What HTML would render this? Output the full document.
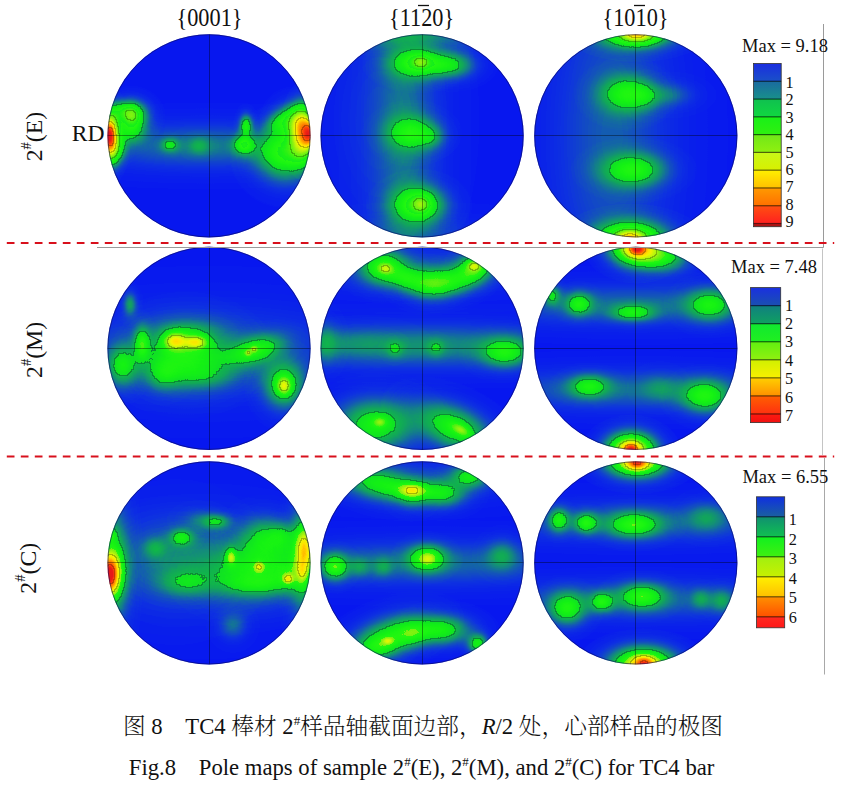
<!DOCTYPE html>
<html><head><meta charset="utf-8"><title>Pole maps</title>
<style>
html,body{margin:0;padding:0;background:#fff;}
body{width:843px;height:786px;overflow:hidden;position:relative;}
svg{position:absolute;left:0;top:0;display:block;}
.t{font-family:"Liberation Serif","Noto Serif CJK SC",serif;fill:#111;}
</style></head><body>
<svg width="843" height="786" viewBox="0 0 843 786">
<defs>
<radialGradient id="g"><stop offset="0.000" stop-color="#fff" stop-opacity="1.0000"/><stop offset="0.083" stop-color="#fff" stop-opacity="0.9692"/><stop offset="0.167" stop-color="#fff" stop-opacity="0.8825"/><stop offset="0.250" stop-color="#fff" stop-opacity="0.7548"/><stop offset="0.333" stop-color="#fff" stop-opacity="0.6065"/><stop offset="0.417" stop-color="#fff" stop-opacity="0.4578"/><stop offset="0.500" stop-color="#fff" stop-opacity="0.3247"/><stop offset="0.583" stop-color="#fff" stop-opacity="0.2163"/><stop offset="0.667" stop-color="#fff" stop-opacity="0.1353"/><stop offset="0.750" stop-color="#fff" stop-opacity="0.0796"/><stop offset="0.833" stop-color="#fff" stop-opacity="0.0439"/><stop offset="0.917" stop-color="#fff" stop-opacity="0.0228"/><stop offset="1.000" stop-color="#fff" stop-opacity="0.0111"/></radialGradient>
<filter id="f0" x="0" y="0" width="1" height="1" filterUnits="objectBoundingBox" color-interpolation-filters="sRGB">
<feComponentTransfer in="SourceGraphic" result="col"><feFuncR type="table" tableValues="0.031 0.034 0.036 0.038 0.041 0.043 0.045 0.048 0.050 0.052 0.054 0.057 0.059 0.061 0.064 0.066 0.068 0.071 0.073 0.075 0.078 0.078 0.078 0.078 0.078 0.078 0.078 0.078 0.078 0.078 0.078 0.078 0.077 0.077 0.076 0.075 0.074 0.074 0.073 0.072 0.071 0.070 0.070 0.069 0.068 0.067 0.066 0.066 0.065 0.064 0.063 0.063 0.064 0.065 0.066 0.068 0.069 0.070 0.071 0.073 0.074 0.075 0.076 0.078 0.080 0.085 0.090 0.094 0.099 0.104 0.109 0.114 0.119 0.124 0.129 0.134 0.139 0.086 0.089 0.091 0.094 0.096 0.099 0.112 0.125 0.138 0.152 0.165 0.178 0.191 0.204 0.217 0.231 0.244 0.257 0.270 0.283 0.296 0.310 0.324 0.338 0.353 0.368 0.382 0.397 0.412 0.426 0.441 0.456 0.470 0.485 0.500 0.514 0.529 0.544 0.558 0.573 0.588 0.602 0.616 0.629 0.643 0.657 0.671 0.685 0.699 0.713 0.727 0.741 0.755 0.769 0.783 0.794 0.806 0.817 0.828 0.839 0.850 0.861 0.873 0.884 0.895 0.906 0.917 0.928 0.940 0.945 0.949 0.953 0.957 0.962 0.966 0.970 0.974 0.978 0.982 0.987 0.991 0.995 0.999 1.000 1.000 1.000 1.000 1.000 1.000 1.000 1.000 1.000 1.000 1.000 1.000 1.000 1.000 1.000 1.000 1.000 1.000 1.000 1.000 1.000 1.000 1.000 1.000 1.000 1.000 1.000 1.000 1.000 1.000 1.000 1.000 1.000 1.000 1.000 1.000 1.000 1.000 0.999 0.999 0.998 0.997 0.997 0.996 0.995 0.995 0.994 0.993 0.993 0.992 0.992 0.991 0.990 0.990 0.989 0.988 0.985 0.981 0.976 0.971 0.967 0.962 0.958 0.953 0.948 0.944 0.939 0.935 0.930 0.925 0.921 0.916 0.912 0.907 0.902 0.902 0.902 0.902 0.902 0.902 0.902 0.902 0.902 0.902 0.902 0.902 0.902 0.902 0.902 0.902 0.902 0.902 0.902 0.902 0.902 0.902"/><feFuncG type="table" tableValues="0.094 0.104 0.114 0.124 0.134 0.144 0.154 0.164 0.174 0.184 0.194 0.207 0.220 0.234 0.247 0.261 0.274 0.288 0.301 0.314 0.328 0.344 0.361 0.378 0.396 0.413 0.430 0.448 0.465 0.482 0.499 0.515 0.529 0.542 0.556 0.569 0.582 0.596 0.609 0.623 0.636 0.649 0.658 0.667 0.676 0.685 0.694 0.703 0.712 0.721 0.730 0.886 0.891 0.896 0.901 0.906 0.911 0.916 0.921 0.926 0.931 0.935 0.940 0.945 0.949 0.951 0.953 0.955 0.957 0.959 0.961 0.962 0.964 0.966 0.968 0.970 0.972 0.926 0.931 0.935 0.940 0.945 0.949 0.949 0.949 0.949 0.949 0.949 0.949 0.949 0.949 0.949 0.949 0.949 0.949 0.949 0.949 0.949 0.949 0.949 0.949 0.949 0.949 0.949 0.949 0.949 0.949 0.949 0.949 0.949 0.949 0.949 0.949 0.949 0.949 0.949 0.949 0.949 0.950 0.951 0.952 0.953 0.955 0.956 0.957 0.958 0.959 0.960 0.961 0.962 0.963 0.965 0.964 0.964 0.963 0.963 0.962 0.961 0.961 0.960 0.960 0.959 0.959 0.958 0.957 0.957 0.952 0.947 0.942 0.936 0.931 0.926 0.920 0.915 0.910 0.905 0.899 0.894 0.889 0.883 0.872 0.860 0.847 0.834 0.822 0.809 0.797 0.784 0.772 0.759 0.746 0.734 0.721 0.709 0.696 0.684 0.671 0.658 0.646 0.634 0.623 0.611 0.600 0.588 0.577 0.565 0.554 0.542 0.531 0.519 0.508 0.496 0.485 0.473 0.462 0.450 0.439 0.428 0.417 0.407 0.396 0.386 0.375 0.365 0.354 0.344 0.333 0.323 0.312 0.302 0.291 0.281 0.271 0.260 0.250 0.239 0.231 0.223 0.216 0.209 0.201 0.194 0.187 0.179 0.172 0.165 0.157 0.150 0.143 0.135 0.128 0.121 0.113 0.106 0.099 0.098 0.098 0.098 0.098 0.098 0.098 0.098 0.098 0.098 0.098 0.098 0.098 0.098 0.098 0.098 0.098 0.098 0.098 0.098 0.098 0.098"/><feFuncB type="table" tableValues="0.941 0.935 0.930 0.924 0.918 0.912 0.907 0.901 0.895 0.889 0.884 0.870 0.855 0.839 0.824 0.809 0.793 0.778 0.762 0.747 0.732 0.714 0.695 0.676 0.656 0.637 0.618 0.599 0.579 0.560 0.541 0.523 0.506 0.490 0.473 0.457 0.440 0.424 0.407 0.391 0.374 0.359 0.349 0.340 0.331 0.321 0.312 0.302 0.293 0.283 0.274 0.141 0.136 0.131 0.126 0.121 0.117 0.112 0.107 0.102 0.097 0.092 0.087 0.082 0.078 0.077 0.076 0.074 0.073 0.072 0.071 0.070 0.068 0.067 0.066 0.065 0.063 0.109 0.105 0.100 0.095 0.091 0.086 0.085 0.083 0.082 0.080 0.079 0.078 0.076 0.075 0.073 0.072 0.070 0.069 0.068 0.066 0.065 0.063 0.063 0.063 0.063 0.063 0.063 0.063 0.063 0.063 0.063 0.063 0.063 0.063 0.063 0.063 0.063 0.063 0.063 0.063 0.063 0.061 0.059 0.058 0.056 0.054 0.053 0.051 0.049 0.048 0.046 0.044 0.043 0.041 0.039 0.037 0.035 0.033 0.030 0.028 0.026 0.024 0.022 0.019 0.017 0.015 0.013 0.010 0.008 0.007 0.007 0.006 0.006 0.005 0.005 0.004 0.003 0.003 0.002 0.002 0.001 0.001 0.000 0.000 0.000 0.000 0.000 0.000 0.000 0.000 0.000 0.000 0.000 0.000 0.000 0.000 0.000 0.000 0.000 0.000 0.000 0.000 0.000 0.000 0.000 0.000 0.000 0.000 0.000 0.000 0.000 0.000 0.000 0.000 0.000 0.000 0.000 0.000 0.000 0.000 0.001 0.003 0.006 0.008 0.011 0.013 0.016 0.019 0.021 0.024 0.026 0.029 0.031 0.034 0.036 0.039 0.041 0.044 0.046 0.049 0.052 0.054 0.057 0.060 0.062 0.065 0.068 0.071 0.073 0.076 0.079 0.081 0.084 0.087 0.090 0.092 0.095 0.098 0.098 0.098 0.098 0.098 0.098 0.098 0.098 0.098 0.098 0.098 0.098 0.098 0.098 0.098 0.098 0.098 0.098 0.098 0.098 0.098 0.098"/><feFuncA type="identity"/></feComponentTransfer>
<feComponentTransfer in="SourceGraphic" result="band"><feFuncR type="discrete" tableValues="0.00 0.00 0.10 0.10 0.20 0.20 0.30 0.30 0.40 0.40"/></feComponentTransfer>
<feColorMatrix in="band" type="matrix" values="0 0 0 0 0  0 0 0 0 0  0 0 0 0 0  1 0 0 0 0" result="bandA"/>
<feMorphology in="bandA" operator="dilate" radius="1" result="dil"/>
<feComposite in="dil" in2="bandA" operator="arithmetic" k1="0" k2="1" k3="-1" k4="0" result="edge"/>
<feComponentTransfer in="edge" result="line"><feFuncA type="linear" slope="2.50"/></feComponentTransfer>
<feComposite in="line" in2="col" operator="over"/>
</filter>
<filter id="f1" x="0" y="0" width="1" height="1" filterUnits="objectBoundingBox" color-interpolation-filters="sRGB">
<feComponentTransfer in="SourceGraphic" result="col"><feFuncR type="table" tableValues="0.031 0.034 0.036 0.038 0.041 0.043 0.045 0.048 0.050 0.052 0.054 0.057 0.059 0.061 0.064 0.066 0.068 0.071 0.073 0.075 0.078 0.078 0.078 0.078 0.078 0.078 0.078 0.078 0.078 0.078 0.078 0.078 0.077 0.077 0.076 0.075 0.074 0.074 0.073 0.072 0.071 0.070 0.070 0.069 0.068 0.067 0.066 0.066 0.065 0.064 0.063 0.063 0.064 0.065 0.066 0.068 0.069 0.070 0.071 0.073 0.074 0.075 0.076 0.078 0.080 0.085 0.090 0.094 0.099 0.104 0.109 0.114 0.119 0.124 0.129 0.134 0.139 0.263 0.280 0.296 0.312 0.330 0.348 0.366 0.384 0.402 0.420 0.438 0.456 0.474 0.492 0.510 0.528 0.546 0.564 0.582 0.599 0.616 0.633 0.650 0.668 0.685 0.702 0.719 0.736 0.753 0.770 0.787 0.801 0.814 0.828 0.842 0.855 0.869 0.883 0.897 0.910 0.924 0.938 0.945 0.950 0.955 0.960 0.966 0.971 0.976 0.981 0.986 0.991 0.996 1.000 1.000 1.000 1.000 1.000 1.000 1.000 1.000 1.000 1.000 1.000 1.000 1.000 1.000 1.000 1.000 1.000 1.000 1.000 1.000 1.000 1.000 1.000 1.000 1.000 1.000 1.000 1.000 1.000 1.000 1.000 0.999 0.999 0.998 0.997 0.996 0.996 0.995 0.994 0.993 0.992 0.992 0.991 0.990 0.989 0.989 0.985 0.980 0.974 0.968 0.963 0.957 0.951 0.946 0.940 0.934 0.929 0.923 0.917 0.912 0.906 0.902 0.902 0.902 0.902 0.902 0.902 0.902 0.902 0.902 0.902 0.902 0.902 0.902 0.902 0.902 0.902 0.902 0.902 0.902 0.902 0.902 0.902 0.902 0.902 0.902 0.902 0.902 0.902 0.902 0.902 0.902 0.902 0.902 0.902 0.902 0.902 0.902 0.902 0.902 0.902 0.902 0.902 0.902 0.902 0.902 0.902 0.902 0.902 0.902 0.902 0.902 0.902 0.902 0.902 0.902 0.902 0.902 0.902 0.902 0.902 0.902 0.902 0.902 0.902 0.902"/><feFuncG type="table" tableValues="0.094 0.104 0.114 0.124 0.134 0.144 0.154 0.164 0.174 0.184 0.194 0.207 0.220 0.234 0.247 0.261 0.274 0.288 0.301 0.314 0.328 0.344 0.361 0.378 0.396 0.413 0.430 0.448 0.465 0.482 0.499 0.515 0.529 0.542 0.556 0.569 0.582 0.596 0.609 0.623 0.636 0.649 0.658 0.667 0.676 0.685 0.694 0.703 0.712 0.721 0.730 0.886 0.891 0.896 0.901 0.906 0.911 0.916 0.921 0.926 0.931 0.935 0.940 0.945 0.949 0.951 0.953 0.955 0.957 0.959 0.961 0.962 0.964 0.966 0.968 0.970 0.972 0.949 0.949 0.949 0.949 0.949 0.949 0.949 0.949 0.949 0.949 0.949 0.949 0.949 0.949 0.949 0.949 0.949 0.949 0.949 0.950 0.951 0.953 0.954 0.955 0.957 0.958 0.959 0.961 0.962 0.964 0.965 0.964 0.963 0.963 0.962 0.961 0.960 0.960 0.959 0.958 0.958 0.957 0.952 0.946 0.939 0.933 0.926 0.919 0.913 0.906 0.900 0.893 0.887 0.878 0.862 0.847 0.832 0.816 0.801 0.785 0.770 0.754 0.739 0.724 0.708 0.693 0.677 0.662 0.647 0.632 0.618 0.604 0.590 0.576 0.562 0.548 0.533 0.519 0.505 0.491 0.477 0.463 0.449 0.435 0.421 0.409 0.396 0.383 0.370 0.357 0.344 0.331 0.319 0.306 0.293 0.280 0.267 0.254 0.241 0.231 0.222 0.213 0.204 0.195 0.186 0.177 0.168 0.159 0.150 0.141 0.132 0.123 0.114 0.105 0.098 0.098 0.098 0.098 0.098 0.098 0.098 0.098 0.098 0.098 0.098 0.098 0.098 0.098 0.098 0.098 0.098 0.098 0.098 0.098 0.098 0.098 0.098 0.098 0.098 0.098 0.098 0.098 0.098 0.098 0.098 0.098 0.098 0.098 0.098 0.098 0.098 0.098 0.098 0.098 0.098 0.098 0.098 0.098 0.098 0.098 0.098 0.098 0.098 0.098 0.098 0.098 0.098 0.098 0.098 0.098 0.098 0.098 0.098 0.098 0.098 0.098 0.098 0.098 0.098"/><feFuncB type="table" tableValues="0.941 0.935 0.930 0.924 0.918 0.912 0.907 0.901 0.895 0.889 0.884 0.870 0.855 0.839 0.824 0.809 0.793 0.778 0.762 0.747 0.732 0.714 0.695 0.676 0.656 0.637 0.618 0.599 0.579 0.560 0.541 0.523 0.506 0.490 0.473 0.457 0.440 0.424 0.407 0.391 0.374 0.359 0.349 0.340 0.331 0.321 0.312 0.302 0.293 0.283 0.274 0.141 0.136 0.131 0.126 0.121 0.117 0.112 0.107 0.102 0.097 0.092 0.087 0.082 0.078 0.077 0.076 0.074 0.073 0.072 0.071 0.070 0.068 0.067 0.066 0.065 0.063 0.068 0.066 0.065 0.063 0.063 0.063 0.063 0.063 0.063 0.063 0.063 0.063 0.063 0.063 0.063 0.063 0.063 0.063 0.063 0.061 0.059 0.057 0.055 0.053 0.051 0.049 0.047 0.045 0.043 0.041 0.039 0.036 0.033 0.030 0.028 0.025 0.022 0.020 0.017 0.014 0.011 0.009 0.007 0.007 0.006 0.005 0.005 0.004 0.003 0.003 0.002 0.001 0.000 0.000 0.000 0.000 0.000 0.000 0.000 0.000 0.000 0.000 0.000 0.000 0.000 0.000 0.000 0.000 0.000 0.000 0.000 0.000 0.000 0.000 0.000 0.000 0.000 0.000 0.000 0.000 0.000 0.000 0.000 0.000 0.002 0.005 0.009 0.012 0.015 0.018 0.021 0.024 0.027 0.030 0.033 0.036 0.039 0.042 0.046 0.049 0.052 0.055 0.059 0.062 0.065 0.069 0.072 0.076 0.079 0.082 0.086 0.089 0.092 0.096 0.098 0.098 0.098 0.098 0.098 0.098 0.098 0.098 0.098 0.098 0.098 0.098 0.098 0.098 0.098 0.098 0.098 0.098 0.098 0.098 0.098 0.098 0.098 0.098 0.098 0.098 0.098 0.098 0.098 0.098 0.098 0.098 0.098 0.098 0.098 0.098 0.098 0.098 0.098 0.098 0.098 0.098 0.098 0.098 0.098 0.098 0.098 0.098 0.098 0.098 0.098 0.098 0.098 0.098 0.098 0.098 0.098 0.098 0.098 0.098 0.098 0.098 0.098 0.098 0.098"/><feFuncA type="identity"/></feComponentTransfer>
<feComponentTransfer in="SourceGraphic" result="band"><feFuncR type="discrete" tableValues="0.00 0.00 0.10 0.10 0.20 0.20 0.30 0.30 0.40 0.40"/></feComponentTransfer>
<feColorMatrix in="band" type="matrix" values="0 0 0 0 0  0 0 0 0 0  0 0 0 0 0  1 0 0 0 0" result="bandA"/>
<feMorphology in="bandA" operator="dilate" radius="1" result="dil"/>
<feComposite in="dil" in2="bandA" operator="arithmetic" k1="0" k2="1" k3="-1" k4="0" result="edge"/>
<feComponentTransfer in="edge" result="line"><feFuncA type="linear" slope="2.50"/></feComponentTransfer>
<feComposite in="line" in2="col" operator="over"/>
</filter>
<filter id="f2" x="0" y="0" width="1" height="1" filterUnits="objectBoundingBox" color-interpolation-filters="sRGB">
<feComponentTransfer in="SourceGraphic" result="col"><feFuncR type="table" tableValues="0.031 0.034 0.036 0.038 0.041 0.043 0.045 0.048 0.050 0.052 0.054 0.057 0.059 0.061 0.064 0.066 0.068 0.071 0.073 0.075 0.078 0.078 0.078 0.078 0.078 0.078 0.078 0.078 0.078 0.078 0.078 0.078 0.077 0.077 0.076 0.075 0.074 0.074 0.073 0.072 0.071 0.070 0.070 0.069 0.068 0.067 0.066 0.066 0.065 0.064 0.063 0.063 0.064 0.065 0.066 0.068 0.069 0.070 0.071 0.073 0.074 0.075 0.076 0.078 0.080 0.085 0.090 0.094 0.099 0.104 0.109 0.114 0.119 0.124 0.129 0.134 0.139 0.454 0.475 0.496 0.516 0.537 0.557 0.578 0.598 0.617 0.637 0.656 0.676 0.696 0.715 0.735 0.754 0.774 0.792 0.807 0.823 0.839 0.854 0.870 0.886 0.901 0.917 0.932 0.944 0.950 0.956 0.961 0.967 0.973 0.979 0.985 0.991 0.997 1.000 1.000 1.000 1.000 1.000 1.000 1.000 1.000 1.000 1.000 1.000 1.000 1.000 1.000 1.000 1.000 1.000 1.000 1.000 1.000 1.000 1.000 1.000 1.000 1.000 1.000 1.000 0.999 0.999 0.998 0.997 0.996 0.995 0.994 0.993 0.992 0.991 0.991 0.990 0.989 0.986 0.980 0.973 0.967 0.960 0.954 0.947 0.941 0.934 0.928 0.921 0.915 0.909 0.902 0.902 0.902 0.902 0.902 0.902 0.902 0.902 0.902 0.902 0.902 0.902 0.902 0.902 0.902 0.902 0.902 0.902 0.902 0.902 0.902 0.902 0.902 0.902 0.902 0.902 0.902 0.902 0.902 0.902 0.902 0.902 0.902 0.902 0.902 0.902 0.902 0.902 0.902 0.902 0.902 0.902 0.902 0.902 0.902 0.902 0.902 0.902 0.902 0.902 0.902 0.902 0.902 0.902 0.902 0.902 0.902 0.902 0.902 0.902 0.902 0.902 0.902 0.902 0.902 0.902 0.902 0.902 0.902 0.902 0.902 0.902 0.902 0.902 0.902 0.902 0.902 0.902 0.902 0.902 0.902 0.902 0.902 0.902 0.902 0.902 0.902 0.902 0.902"/><feFuncG type="table" tableValues="0.094 0.104 0.114 0.124 0.134 0.144 0.154 0.164 0.174 0.184 0.194 0.207 0.220 0.234 0.247 0.261 0.274 0.288 0.301 0.314 0.328 0.344 0.361 0.378 0.396 0.413 0.430 0.448 0.465 0.482 0.499 0.515 0.529 0.542 0.556 0.569 0.582 0.596 0.609 0.623 0.636 0.649 0.658 0.667 0.676 0.685 0.694 0.703 0.712 0.721 0.730 0.886 0.891 0.896 0.901 0.906 0.911 0.916 0.921 0.926 0.931 0.935 0.940 0.945 0.949 0.951 0.953 0.955 0.957 0.959 0.961 0.962 0.964 0.966 0.968 0.970 0.972 0.949 0.949 0.949 0.949 0.949 0.949 0.949 0.950 0.951 0.953 0.954 0.956 0.958 0.959 0.961 0.962 0.964 0.964 0.964 0.963 0.962 0.961 0.960 0.960 0.959 0.958 0.957 0.954 0.946 0.939 0.931 0.924 0.916 0.909 0.902 0.894 0.887 0.875 0.857 0.840 0.822 0.804 0.787 0.769 0.752 0.734 0.716 0.699 0.681 0.664 0.646 0.630 0.614 0.598 0.582 0.565 0.549 0.533 0.517 0.501 0.485 0.469 0.452 0.436 0.421 0.406 0.392 0.377 0.362 0.348 0.333 0.318 0.304 0.289 0.274 0.260 0.245 0.232 0.222 0.211 0.201 0.191 0.180 0.170 0.160 0.150 0.139 0.129 0.119 0.109 0.098 0.098 0.098 0.098 0.098 0.098 0.098 0.098 0.098 0.098 0.098 0.098 0.098 0.098 0.098 0.098 0.098 0.098 0.098 0.098 0.098 0.098 0.098 0.098 0.098 0.098 0.098 0.098 0.098 0.098 0.098 0.098 0.098 0.098 0.098 0.098 0.098 0.098 0.098 0.098 0.098 0.098 0.098 0.098 0.098 0.098 0.098 0.098 0.098 0.098 0.098 0.098 0.098 0.098 0.098 0.098 0.098 0.098 0.098 0.098 0.098 0.098 0.098 0.098 0.098 0.098 0.098 0.098 0.098 0.098 0.098 0.098 0.098 0.098 0.098 0.098 0.098 0.098 0.098 0.098 0.098 0.098 0.098 0.098 0.098 0.098 0.098 0.098 0.098"/><feFuncB type="table" tableValues="0.941 0.935 0.930 0.924 0.918 0.912 0.907 0.901 0.895 0.889 0.884 0.870 0.855 0.839 0.824 0.809 0.793 0.778 0.762 0.747 0.732 0.714 0.695 0.676 0.656 0.637 0.618 0.599 0.579 0.560 0.541 0.523 0.506 0.490 0.473 0.457 0.440 0.424 0.407 0.391 0.374 0.359 0.349 0.340 0.331 0.321 0.312 0.302 0.293 0.283 0.274 0.141 0.136 0.131 0.126 0.121 0.117 0.112 0.107 0.102 0.097 0.092 0.087 0.082 0.078 0.077 0.076 0.074 0.073 0.072 0.071 0.070 0.068 0.067 0.066 0.065 0.063 0.063 0.063 0.063 0.063 0.063 0.063 0.063 0.062 0.059 0.057 0.055 0.052 0.050 0.048 0.045 0.043 0.040 0.038 0.035 0.031 0.028 0.025 0.022 0.019 0.016 0.013 0.010 0.007 0.007 0.006 0.005 0.004 0.004 0.003 0.002 0.001 0.000 0.000 0.000 0.000 0.000 0.000 0.000 0.000 0.000 0.000 0.000 0.000 0.000 0.000 0.000 0.000 0.000 0.000 0.000 0.000 0.000 0.000 0.000 0.000 0.000 0.000 0.000 0.000 0.002 0.006 0.010 0.013 0.017 0.020 0.024 0.027 0.031 0.034 0.038 0.041 0.045 0.048 0.052 0.056 0.060 0.064 0.067 0.071 0.075 0.079 0.083 0.086 0.090 0.094 0.098 0.098 0.098 0.098 0.098 0.098 0.098 0.098 0.098 0.098 0.098 0.098 0.098 0.098 0.098 0.098 0.098 0.098 0.098 0.098 0.098 0.098 0.098 0.098 0.098 0.098 0.098 0.098 0.098 0.098 0.098 0.098 0.098 0.098 0.098 0.098 0.098 0.098 0.098 0.098 0.098 0.098 0.098 0.098 0.098 0.098 0.098 0.098 0.098 0.098 0.098 0.098 0.098 0.098 0.098 0.098 0.098 0.098 0.098 0.098 0.098 0.098 0.098 0.098 0.098 0.098 0.098 0.098 0.098 0.098 0.098 0.098 0.098 0.098 0.098 0.098 0.098 0.098 0.098 0.098 0.098 0.098 0.098 0.098 0.098 0.098 0.098 0.098 0.098"/><feFuncA type="identity"/></feComponentTransfer>
<feComponentTransfer in="SourceGraphic" result="band"><feFuncR type="discrete" tableValues="0.00 0.00 0.10 0.10 0.20 0.20 0.30 0.30 0.40 0.40"/></feComponentTransfer>
<feColorMatrix in="band" type="matrix" values="0 0 0 0 0  0 0 0 0 0  0 0 0 0 0  1 0 0 0 0" result="bandA"/>
<feMorphology in="bandA" operator="dilate" radius="1" result="dil"/>
<feComposite in="dil" in2="bandA" operator="arithmetic" k1="0" k2="1" k3="-1" k4="0" result="edge"/>
<feComponentTransfer in="edge" result="line"><feFuncA type="linear" slope="2.50"/></feComponentTransfer>
<feComposite in="line" in2="col" operator="over"/>
</filter>
<clipPath id="c00"><circle cx="209" cy="135.8" r="101.6"/></clipPath>
<clipPath id="c01"><circle cx="422.1" cy="135.8" r="101.6"/></clipPath>
<clipPath id="c02"><circle cx="635.8" cy="135.8" r="101.6"/></clipPath>
<clipPath id="c10"><circle cx="209" cy="348.3" r="101.6"/></clipPath>
<clipPath id="c11"><circle cx="422.1" cy="348.3" r="101.6"/></clipPath>
<clipPath id="c12"><circle cx="635.8" cy="348.3" r="101.6"/></clipPath>
<clipPath id="c20"><circle cx="209" cy="562.9" r="101.6"/></clipPath>
<clipPath id="c21"><circle cx="422.1" cy="562.9" r="101.6"/></clipPath>
<clipPath id="c22"><circle cx="635.8" cy="562.9" r="101.6"/></clipPath>
</defs>
<g clip-path="url(#c00)"><g filter="url(#f0)" style="isolation:isolate"><rect x="105.4" y="32.2" width="207.2" height="207.2" fill="rgb(0,0,0)"/><ellipse cx="132" cy="116" rx="33" ry="29.7" fill="url(#g)" opacity="0.250" style="mix-blend-mode:plus-lighter"/><ellipse cx="122" cy="110" rx="33" ry="19.8" fill="url(#g)" opacity="0.120" style="mix-blend-mode:plus-lighter"/><ellipse cx="132" cy="132" rx="26.4" ry="23.1" fill="url(#g)" opacity="0.130" style="mix-blend-mode:plus-lighter"/><ellipse cx="111" cy="136" rx="19.8" ry="49.5" fill="url(#g)" opacity="0.400" style="mix-blend-mode:plus-lighter"/><ellipse cx="109" cy="135" rx="13.2" ry="33" fill="url(#g)" opacity="0.500" style="mix-blend-mode:plus-lighter"/><ellipse cx="114" cy="152" rx="19.8" ry="29.7" fill="url(#g)" opacity="0.160" style="mix-blend-mode:plus-lighter" transform="rotate(25 114 152)"/><ellipse cx="286" cy="155" rx="56.1" ry="52.8" fill="url(#g)" opacity="0.260" style="mix-blend-mode:plus-lighter"/><ellipse cx="293" cy="120" rx="33" ry="33" fill="url(#g)" opacity="0.220" style="mix-blend-mode:plus-lighter"/><ellipse cx="277" cy="122" rx="26.4" ry="19.8" fill="url(#g)" opacity="0.100" style="mix-blend-mode:plus-lighter" transform="rotate(-30 277 122)"/><ellipse cx="303" cy="131" rx="23.1" ry="49.5" fill="url(#g)" opacity="0.520" style="mix-blend-mode:plus-lighter"/><ellipse cx="310" cy="134" rx="13.2" ry="26.4" fill="url(#g)" opacity="0.400" style="mix-blend-mode:plus-lighter"/><ellipse cx="205" cy="146" rx="231" ry="42.9" fill="url(#g)" opacity="0.112" style="mix-blend-mode:plus-lighter"/><ellipse cx="244" cy="145" rx="19.8" ry="18.2" fill="url(#g)" opacity="0.195" style="mix-blend-mode:plus-lighter"/><ellipse cx="246" cy="125" rx="12.5" ry="21.5" fill="url(#g)" opacity="0.215" style="mix-blend-mode:plus-lighter"/><ellipse cx="170" cy="145" rx="16.5" ry="13.2" fill="url(#g)" opacity="0.130" style="mix-blend-mode:plus-lighter"/><ellipse cx="199" cy="146" rx="19.8" ry="16.5" fill="url(#g)" opacity="0.070" style="mix-blend-mode:plus-lighter"/><ellipse cx="132" cy="115" rx="16.5" ry="19.8" fill="url(#g)" opacity="0.100" style="mix-blend-mode:plus-lighter"/></g><path d="M107.4 135.5H310.6M209.5 34.2V237.4" stroke="#000" stroke-opacity="0.38" stroke-width="1" fill="none"/></g>
<circle cx="209" cy="135.8" r="101.1" fill="none" stroke="#0c0c60" stroke-opacity="0.6" stroke-width="1"/>
<g clip-path="url(#c01)"><g filter="url(#f0)" style="isolation:isolate"><rect x="318.5" y="32.2" width="207.2" height="207.2" fill="rgb(0,0,0)"/><ellipse cx="418" cy="63" rx="56.1" ry="29.7" fill="url(#g)" opacity="0.230" style="mix-blend-mode:plus-lighter"/><ellipse cx="452" cy="65" rx="46.2" ry="26.4" fill="url(#g)" opacity="0.180" style="mix-blend-mode:plus-lighter"/><ellipse cx="412" cy="133" rx="49.5" ry="33" fill="url(#g)" opacity="0.180" style="mix-blend-mode:plus-lighter"/><ellipse cx="432" cy="137" rx="26.4" ry="23.1" fill="url(#g)" opacity="0.080" style="mix-blend-mode:plus-lighter"/><ellipse cx="419" cy="205" rx="52.8" ry="36.3" fill="url(#g)" opacity="0.270" style="mix-blend-mode:plus-lighter"/><ellipse cx="405" cy="136" rx="66" ry="330" fill="url(#g)" opacity="0.090" style="mix-blend-mode:plus-lighter"/><ellipse cx="380" cy="120" rx="99" ry="198" fill="url(#g)" opacity="0.030" style="mix-blend-mode:plus-lighter"/><ellipse cx="422" cy="34" rx="198" ry="26.4" fill="url(#g)" opacity="0.100" style="mix-blend-mode:plus-lighter"/><ellipse cx="422" cy="235" rx="165" ry="33" fill="url(#g)" opacity="0.040" style="mix-blend-mode:plus-lighter"/><ellipse cx="421" cy="62" rx="16.5" ry="13.2" fill="url(#g)" opacity="0.130" style="mix-blend-mode:plus-lighter"/><ellipse cx="421" cy="204" rx="16.5" ry="16.5" fill="url(#g)" opacity="0.130" style="mix-blend-mode:plus-lighter"/></g><path d="M320.5 135.5H523.7M422.5 34.2V237.4" stroke="#000" stroke-opacity="0.38" stroke-width="1" fill="none"/></g>
<circle cx="422.1" cy="135.8" r="101.1" fill="none" stroke="#0c0c60" stroke-opacity="0.6" stroke-width="1"/>
<g clip-path="url(#c02)"><g filter="url(#f0)" style="isolation:isolate"><rect x="532.2" y="32.2" width="207.2" height="207.2" fill="rgb(0,0,0)"/><ellipse cx="637" cy="32" rx="72.6" ry="29.7" fill="url(#g)" opacity="0.360" style="mix-blend-mode:plus-lighter"/><ellipse cx="637" cy="34" rx="33" ry="16.5" fill="url(#g)" opacity="0.280" style="mix-blend-mode:plus-lighter"/><ellipse cx="627" cy="94" rx="52.8" ry="36.3" fill="url(#g)" opacity="0.205" style="mix-blend-mode:plus-lighter"/><ellipse cx="646" cy="96" rx="26.4" ry="26.4" fill="url(#g)" opacity="0.060" style="mix-blend-mode:plus-lighter"/><ellipse cx="670" cy="95" rx="46.2" ry="23.1" fill="url(#g)" opacity="0.080" style="mix-blend-mode:plus-lighter"/><ellipse cx="634" cy="170" rx="62.7" ry="33" fill="url(#g)" opacity="0.215" style="mix-blend-mode:plus-lighter"/><ellipse cx="631" cy="240" rx="72.6" ry="36.3" fill="url(#g)" opacity="0.360" style="mix-blend-mode:plus-lighter"/><ellipse cx="630" cy="238" rx="29.7" ry="16.5" fill="url(#g)" opacity="0.280" style="mix-blend-mode:plus-lighter"/><ellipse cx="612" cy="136" rx="115.5" ry="330" fill="url(#g)" opacity="0.085" style="mix-blend-mode:plus-lighter"/></g><path d="M534.2 135.5H737.4M635.5 34.2V237.4" stroke="#000" stroke-opacity="0.38" stroke-width="1" fill="none"/></g>
<circle cx="635.8" cy="135.8" r="101.1" fill="none" stroke="#0c0c60" stroke-opacity="0.6" stroke-width="1"/>
<g clip-path="url(#c10)"><g filter="url(#f1)" style="isolation:isolate"><rect x="105.4" y="244.7" width="207.2" height="207.2" fill="rgb(0,0,0)"/><ellipse cx="130" cy="304" rx="13.2" ry="23.1" fill="url(#g)" opacity="0.140" style="mix-blend-mode:plus-lighter"/><ellipse cx="142" cy="343" rx="14.9" ry="33" fill="url(#g)" opacity="0.180" style="mix-blend-mode:plus-lighter"/><ellipse cx="122" cy="366" rx="29.7" ry="39.6" fill="url(#g)" opacity="0.185" style="mix-blend-mode:plus-lighter"/><ellipse cx="186" cy="355" rx="89.1" ry="62.7" fill="url(#g)" opacity="0.205" style="mix-blend-mode:plus-lighter"/><ellipse cx="185" cy="330" rx="52.8" ry="16.5" fill="url(#g)" opacity="0.050" style="mix-blend-mode:plus-lighter"/><ellipse cx="163" cy="375" rx="33" ry="29.7" fill="url(#g)" opacity="0.100" style="mix-blend-mode:plus-lighter"/><ellipse cx="205" cy="377" rx="59.4" ry="23.1" fill="url(#g)" opacity="0.060" style="mix-blend-mode:plus-lighter"/><ellipse cx="175" cy="341" rx="23.1" ry="16.5" fill="url(#g)" opacity="0.280" style="mix-blend-mode:plus-lighter"/><ellipse cx="196" cy="342" rx="23.1" ry="13.2" fill="url(#g)" opacity="0.250" style="mix-blend-mode:plus-lighter"/><ellipse cx="256" cy="350" rx="56.1" ry="26.4" fill="url(#g)" opacity="0.200" style="mix-blend-mode:plus-lighter" transform="rotate(-18 256 350)"/><ellipse cx="284" cy="385" rx="39.6" ry="46.2" fill="url(#g)" opacity="0.230" style="mix-blend-mode:plus-lighter"/><ellipse cx="284" cy="386" rx="13.2" ry="16.5" fill="url(#g)" opacity="0.200" style="mix-blend-mode:plus-lighter"/><ellipse cx="254" cy="349" rx="6.6" ry="6.6" fill="url(#g)" opacity="0.120" style="mix-blend-mode:plus-lighter"/><ellipse cx="248" cy="353" rx="6.6" ry="6.6" fill="url(#g)" opacity="0.120" style="mix-blend-mode:plus-lighter"/><ellipse cx="209" cy="352" rx="313.5" ry="85.8" fill="url(#g)" opacity="0.075" style="mix-blend-mode:plus-lighter"/></g><path d="M107.4 348.5H310.6M209.5 246.7V449.9" stroke="#000" stroke-opacity="0.38" stroke-width="1" fill="none"/></g>
<circle cx="209" cy="348.3" r="101.1" fill="none" stroke="#0c0c60" stroke-opacity="0.6" stroke-width="1"/>
<g clip-path="url(#c11)"><g filter="url(#f1)" style="isolation:isolate"><rect x="318.5" y="244.7" width="207.2" height="207.2" fill="rgb(0,0,0)"/><ellipse cx="383" cy="267" rx="46.2" ry="36.3" fill="url(#g)" opacity="0.240" style="mix-blend-mode:plus-lighter"/><ellipse cx="405" cy="278" rx="33" ry="23.1" fill="url(#g)" opacity="0.110" style="mix-blend-mode:plus-lighter"/><ellipse cx="426" cy="284" rx="46.2" ry="29.7" fill="url(#g)" opacity="0.185" style="mix-blend-mode:plus-lighter"/><ellipse cx="450" cy="282" rx="52.8" ry="29.7" fill="url(#g)" opacity="0.190" style="mix-blend-mode:plus-lighter" transform="rotate(-10 450 282)"/><ellipse cx="476" cy="267" rx="36.3" ry="29.7" fill="url(#g)" opacity="0.240" style="mix-blend-mode:plus-lighter" transform="rotate(-30 476 267)"/><ellipse cx="422" cy="346" rx="330" ry="42.9" fill="url(#g)" opacity="0.135" style="mix-blend-mode:plus-lighter"/><ellipse cx="360" cy="342" rx="72.6" ry="26.4" fill="url(#g)" opacity="0.030" style="mix-blend-mode:plus-lighter"/><ellipse cx="395" cy="349" rx="16.5" ry="16.5" fill="url(#g)" opacity="0.080" style="mix-blend-mode:plus-lighter"/><ellipse cx="436" cy="348" rx="16.5" ry="16.5" fill="url(#g)" opacity="0.080" style="mix-blend-mode:plus-lighter"/><ellipse cx="505" cy="353" rx="46.2" ry="29.7" fill="url(#g)" opacity="0.190" style="mix-blend-mode:plus-lighter"/><ellipse cx="326" cy="342" rx="23.1" ry="39.6" fill="url(#g)" opacity="0.080" style="mix-blend-mode:plus-lighter"/><ellipse cx="375" cy="425" rx="79.2" ry="52.8" fill="url(#g)" opacity="0.250" style="mix-blend-mode:plus-lighter"/><ellipse cx="455" cy="428" rx="79.2" ry="42.9" fill="url(#g)" opacity="0.255" style="mix-blend-mode:plus-lighter" transform="rotate(25 455 428)"/><ellipse cx="422" cy="268" rx="231" ry="46.2" fill="url(#g)" opacity="0.060" style="mix-blend-mode:plus-lighter"/><ellipse cx="385.5" cy="268.7" rx="13.2" ry="9.9" fill="url(#g)" opacity="0.130" style="mix-blend-mode:plus-lighter"/><ellipse cx="474" cy="266" rx="13.2" ry="9.9" fill="url(#g)" opacity="0.130" style="mix-blend-mode:plus-lighter"/><ellipse cx="380" cy="422" rx="13.2" ry="9.9" fill="url(#g)" opacity="0.130" style="mix-blend-mode:plus-lighter"/><ellipse cx="461" cy="430" rx="19.8" ry="9.9" fill="url(#g)" opacity="0.130" style="mix-blend-mode:plus-lighter" transform="rotate(30 461 430)"/></g><path d="M320.5 348.5H523.7M422.5 246.7V449.9" stroke="#000" stroke-opacity="0.38" stroke-width="1" fill="none"/></g>
<circle cx="422.1" cy="348.3" r="101.1" fill="none" stroke="#0c0c60" stroke-opacity="0.6" stroke-width="1"/>
<g clip-path="url(#c12)"><g filter="url(#f1)" style="isolation:isolate"><rect x="532.2" y="244.7" width="207.2" height="207.2" fill="rgb(0,0,0)"/><ellipse cx="637" cy="247" rx="52.8" ry="36.3" fill="url(#g)" opacity="0.500" style="mix-blend-mode:plus-lighter"/><ellipse cx="637" cy="249" rx="16.5" ry="13.2" fill="url(#g)" opacity="0.250" style="mix-blend-mode:plus-lighter"/><ellipse cx="665" cy="258" rx="52.8" ry="29.7" fill="url(#g)" opacity="0.190" style="mix-blend-mode:plus-lighter"/><ellipse cx="552" cy="295" rx="16.5" ry="19.8" fill="url(#g)" opacity="0.160" style="mix-blend-mode:plus-lighter"/><ellipse cx="579" cy="304" rx="26.4" ry="23.1" fill="url(#g)" opacity="0.190" style="mix-blend-mode:plus-lighter"/><ellipse cx="633" cy="313" rx="42.9" ry="16.5" fill="url(#g)" opacity="0.180" style="mix-blend-mode:plus-lighter"/><ellipse cx="710" cy="305" rx="46.2" ry="33" fill="url(#g)" opacity="0.190" style="mix-blend-mode:plus-lighter"/><ellipse cx="635" cy="305" rx="313.5" ry="39.6" fill="url(#g)" opacity="0.100" style="mix-blend-mode:plus-lighter"/><ellipse cx="589" cy="386" rx="39.6" ry="23.1" fill="url(#g)" opacity="0.180" style="mix-blend-mode:plus-lighter"/><ellipse cx="660" cy="388" rx="33" ry="26.4" fill="url(#g)" opacity="0.050" style="mix-blend-mode:plus-lighter"/><ellipse cx="705" cy="397" rx="46.2" ry="33" fill="url(#g)" opacity="0.210" style="mix-blend-mode:plus-lighter"/><ellipse cx="635" cy="390" rx="313.5" ry="39.6" fill="url(#g)" opacity="0.100" style="mix-blend-mode:plus-lighter"/><ellipse cx="631" cy="451" rx="49.5" ry="36.3" fill="url(#g)" opacity="0.500" style="mix-blend-mode:plus-lighter"/><ellipse cx="631" cy="449" rx="16.5" ry="13.2" fill="url(#g)" opacity="0.250" style="mix-blend-mode:plus-lighter"/></g><path d="M534.2 348.5H737.4M635.5 246.7V449.9" stroke="#000" stroke-opacity="0.38" stroke-width="1" fill="none"/></g>
<circle cx="635.8" cy="348.3" r="101.1" fill="none" stroke="#0c0c60" stroke-opacity="0.6" stroke-width="1"/>
<g clip-path="url(#c20)"><g filter="url(#f2)" style="isolation:isolate"><rect x="105.4" y="459.3" width="207.2" height="207.2" fill="rgb(0,0,0)"/><ellipse cx="109" cy="575" rx="16.5" ry="36.3" fill="url(#g)" opacity="0.300" style="mix-blend-mode:plus-lighter"/><ellipse cx="111" cy="574" rx="26.4" ry="49.5" fill="url(#g)" opacity="0.200" style="mix-blend-mode:plus-lighter"/><ellipse cx="113" cy="566" rx="29.7" ry="125.4" fill="url(#g)" opacity="0.180" style="mix-blend-mode:plus-lighter"/><ellipse cx="111" cy="535" rx="9.9" ry="13.2" fill="url(#g)" opacity="0.100" style="mix-blend-mode:plus-lighter"/><ellipse cx="181.5" cy="537.4" rx="23.1" ry="16.5" fill="url(#g)" opacity="0.160" style="mix-blend-mode:plus-lighter"/><ellipse cx="216.6" cy="521.4" rx="26.4" ry="14.9" fill="url(#g)" opacity="0.150" style="mix-blend-mode:plus-lighter"/><ellipse cx="255" cy="572" rx="92.4" ry="56.1" fill="url(#g)" opacity="0.195" style="mix-blend-mode:plus-lighter"/><ellipse cx="265" cy="538" rx="49.5" ry="42.9" fill="url(#g)" opacity="0.155" style="mix-blend-mode:plus-lighter"/><ellipse cx="287" cy="573" rx="33" ry="33" fill="url(#g)" opacity="0.090" style="mix-blend-mode:plus-lighter"/><ellipse cx="305" cy="549" rx="19.8" ry="46.2" fill="url(#g)" opacity="0.240" style="mix-blend-mode:plus-lighter"/><ellipse cx="304" cy="558" rx="26.4" ry="125.4" fill="url(#g)" opacity="0.170" style="mix-blend-mode:plus-lighter"/><ellipse cx="302" cy="572" rx="9.9" ry="19.8" fill="url(#g)" opacity="0.080" style="mix-blend-mode:plus-lighter"/><ellipse cx="231" cy="557" rx="9.9" ry="16.5" fill="url(#g)" opacity="0.180" style="mix-blend-mode:plus-lighter"/><ellipse cx="259" cy="567" rx="9.9" ry="9.9" fill="url(#g)" opacity="0.150" style="mix-blend-mode:plus-lighter"/><ellipse cx="288" cy="579" rx="9.9" ry="9.9" fill="url(#g)" opacity="0.180" style="mix-blend-mode:plus-lighter"/><ellipse cx="185" cy="583" rx="52.8" ry="26.4" fill="url(#g)" opacity="0.100" style="mix-blend-mode:plus-lighter"/><ellipse cx="155" cy="548" rx="23.1" ry="19.8" fill="url(#g)" opacity="0.090" style="mix-blend-mode:plus-lighter"/><ellipse cx="200" cy="520" rx="33" ry="19.8" fill="url(#g)" opacity="0.060" style="mix-blend-mode:plus-lighter"/><ellipse cx="233" cy="626" rx="26.4" ry="26.4" fill="url(#g)" opacity="0.090" style="mix-blend-mode:plus-lighter"/><ellipse cx="175" cy="562" rx="99" ry="82.5" fill="url(#g)" opacity="0.065" style="mix-blend-mode:plus-lighter"/><ellipse cx="200" cy="560" rx="231" ry="99" fill="url(#g)" opacity="0.060" style="mix-blend-mode:plus-lighter"/><ellipse cx="282" cy="535" rx="26.4" ry="23.1" fill="url(#g)" opacity="0.090" style="mix-blend-mode:plus-lighter"/><ellipse cx="258" cy="585" rx="72.6" ry="19.8" fill="url(#g)" opacity="0.070" style="mix-blend-mode:plus-lighter"/><ellipse cx="285" cy="549" rx="19.8" ry="19.8" fill="url(#g)" opacity="0.040" style="mix-blend-mode:plus-lighter"/></g><path d="M107.4 562.5H310.6M209.5 461.3V664.5" stroke="#000" stroke-opacity="0.38" stroke-width="1" fill="none"/></g>
<circle cx="209" cy="562.9" r="101.1" fill="none" stroke="#0c0c60" stroke-opacity="0.6" stroke-width="1"/>
<g clip-path="url(#c21)"><g filter="url(#f2)" style="isolation:isolate"><rect x="318.5" y="459.3" width="207.2" height="207.2" fill="rgb(0,0,0)"/><ellipse cx="382" cy="485" rx="79.2" ry="33" fill="url(#g)" opacity="0.200" style="mix-blend-mode:plus-lighter" transform="rotate(12 382 485)"/><ellipse cx="413" cy="490" rx="33" ry="16.5" fill="url(#g)" opacity="0.170" style="mix-blend-mode:plus-lighter"/><ellipse cx="443" cy="494" rx="46.2" ry="26.4" fill="url(#g)" opacity="0.190" style="mix-blend-mode:plus-lighter"/><ellipse cx="470" cy="476" rx="36.3" ry="23.1" fill="url(#g)" opacity="0.190" style="mix-blend-mode:plus-lighter"/><ellipse cx="412" cy="498" rx="29.7" ry="23.1" fill="url(#g)" opacity="0.070" style="mix-blend-mode:plus-lighter"/><ellipse cx="420" cy="480" rx="198" ry="39.6" fill="url(#g)" opacity="0.060" style="mix-blend-mode:plus-lighter"/><ellipse cx="335" cy="567" rx="26.4" ry="26.4" fill="url(#g)" opacity="0.230" style="mix-blend-mode:plus-lighter"/><ellipse cx="427" cy="558" rx="36.3" ry="26.4" fill="url(#g)" opacity="0.240" style="mix-blend-mode:plus-lighter"/><ellipse cx="360" cy="567" rx="19.8" ry="19.8" fill="url(#g)" opacity="0.080" style="mix-blend-mode:plus-lighter"/><ellipse cx="383" cy="567" rx="19.8" ry="19.8" fill="url(#g)" opacity="0.080" style="mix-blend-mode:plus-lighter"/><ellipse cx="502" cy="555" rx="29.7" ry="29.7" fill="url(#g)" opacity="0.100" style="mix-blend-mode:plus-lighter"/><ellipse cx="422" cy="563" rx="330" ry="42.9" fill="url(#g)" opacity="0.100" style="mix-blend-mode:plus-lighter"/><ellipse cx="388" cy="637" rx="79.2" ry="39.6" fill="url(#g)" opacity="0.230" style="mix-blend-mode:plus-lighter" transform="rotate(-20 388 637)"/><ellipse cx="443" cy="630" rx="56.1" ry="29.7" fill="url(#g)" opacity="0.230" style="mix-blend-mode:plus-lighter"/><ellipse cx="413" cy="634" rx="33" ry="26.4" fill="url(#g)" opacity="0.100" style="mix-blend-mode:plus-lighter"/><ellipse cx="478" cy="644" rx="19.8" ry="19.8" fill="url(#g)" opacity="0.230" style="mix-blend-mode:plus-lighter"/><ellipse cx="378" cy="648" rx="46.2" ry="23.1" fill="url(#g)" opacity="0.100" style="mix-blend-mode:plus-lighter" transform="rotate(-10 378 648)"/><ellipse cx="412" cy="490" rx="16.5" ry="9.9" fill="url(#g)" opacity="0.050" style="mix-blend-mode:plus-lighter"/><ellipse cx="428" cy="559" rx="13.2" ry="9.9" fill="url(#g)" opacity="0.050" style="mix-blend-mode:plus-lighter"/><ellipse cx="388" cy="641" rx="9.9" ry="6.6" fill="url(#g)" opacity="0.100" style="mix-blend-mode:plus-lighter"/></g><path d="M320.5 562.5H523.7M422.5 461.3V664.5" stroke="#000" stroke-opacity="0.38" stroke-width="1" fill="none"/></g>
<circle cx="422.1" cy="562.9" r="101.1" fill="none" stroke="#0c0c60" stroke-opacity="0.6" stroke-width="1"/>
<g clip-path="url(#c22)"><g filter="url(#f2)" style="isolation:isolate"><rect x="532.2" y="459.3" width="207.2" height="207.2" fill="rgb(0,0,0)"/><ellipse cx="637" cy="461" rx="62.7" ry="33" fill="url(#g)" opacity="0.430" style="mix-blend-mode:plus-lighter"/><ellipse cx="637" cy="463" rx="19.8" ry="13.2" fill="url(#g)" opacity="0.200" style="mix-blend-mode:plus-lighter"/><ellipse cx="559" cy="520" rx="19.8" ry="23.1" fill="url(#g)" opacity="0.200" style="mix-blend-mode:plus-lighter"/><ellipse cx="586" cy="523" rx="23.1" ry="19.8" fill="url(#g)" opacity="0.200" style="mix-blend-mode:plus-lighter"/><ellipse cx="634" cy="525" rx="52.8" ry="26.4" fill="url(#g)" opacity="0.210" style="mix-blend-mode:plus-lighter"/><ellipse cx="707" cy="517" rx="39.6" ry="29.7" fill="url(#g)" opacity="0.090" style="mix-blend-mode:plus-lighter"/><ellipse cx="636" cy="522" rx="313.5" ry="39.6" fill="url(#g)" opacity="0.090" style="mix-blend-mode:plus-lighter"/><ellipse cx="567" cy="609" rx="36.3" ry="33" fill="url(#g)" opacity="0.220" style="mix-blend-mode:plus-lighter"/><ellipse cx="602" cy="602" rx="23.1" ry="19.8" fill="url(#g)" opacity="0.190" style="mix-blend-mode:plus-lighter"/><ellipse cx="642" cy="596" rx="46.2" ry="26.4" fill="url(#g)" opacity="0.210" style="mix-blend-mode:plus-lighter"/><ellipse cx="722" cy="601" rx="23.1" ry="23.1" fill="url(#g)" opacity="0.100" style="mix-blend-mode:plus-lighter"/><ellipse cx="701" cy="599" rx="19.8" ry="19.8" fill="url(#g)" opacity="0.090" style="mix-blend-mode:plus-lighter"/><ellipse cx="636" cy="600" rx="313.5" ry="39.6" fill="url(#g)" opacity="0.090" style="mix-blend-mode:plus-lighter"/><ellipse cx="643" cy="665" rx="66" ry="36.3" fill="url(#g)" opacity="0.430" style="mix-blend-mode:plus-lighter"/><ellipse cx="644" cy="663" rx="19.8" ry="13.2" fill="url(#g)" opacity="0.200" style="mix-blend-mode:plus-lighter"/></g><path d="M534.2 562.5H737.4M635.5 461.3V664.5" stroke="#000" stroke-opacity="0.38" stroke-width="1" fill="none"/></g>
<circle cx="635.8" cy="562.9" r="101.1" fill="none" stroke="#0c0c60" stroke-opacity="0.6" stroke-width="1"/>
<path d="M97 247.5H823.5M823.5 24V247.5" stroke="#9a9a9a" stroke-width="1" fill="none"/>
<path d="M822.5 248.5V455" stroke="#c4c4c4" stroke-width="1" fill="none"/>
<path d="M824.5 458V674.5" stroke="#a8a8a8" stroke-width="1" fill="none"/>
<line x1="6.8" y1="243.0" x2="834.2" y2="243.0" stroke="#d8101c" stroke-width="2.1" stroke-dasharray="7.7 6.3"/>
<line x1="6.8" y1="456.5" x2="834.2" y2="456.5" stroke="#d8101c" stroke-width="2.1" stroke-dasharray="7.7 6.3"/>
<text class="t" transform="translate(209.5 25.5) scale(1 1.1)" font-size="22.3" text-anchor="middle">{0001}</text>
<text class="t" transform="translate(421.6 25.5) scale(1 1.1)" font-size="22.3" text-anchor="middle">{1120}</text>
<line x1="418" y1="5.5" x2="429" y2="5.5" stroke="#111" stroke-width="1.3"/>
<text class="t" transform="translate(635.5 25.5) scale(1 1.1)" font-size="22.3" text-anchor="middle">{1010}</text>
<line x1="634" y1="5.5" x2="645" y2="5.5" stroke="#111" stroke-width="1.3"/>
<text class="t" x="71.8" y="141.4" font-size="23.6">RD</text>
<text class="t" transform="translate(42.2 136.6) rotate(-90)" font-size="23.8" text-anchor="middle">2<tspan font-size="14.5" dy="-11">#</tspan><tspan dy="11">(E)</tspan></text>
<text class="t" transform="translate(42.0 349.9) rotate(-90)" font-size="23.8" text-anchor="middle">2<tspan font-size="14.5" dy="-11">#</tspan><tspan dy="11">(M)</tspan></text>
<text class="t" transform="translate(35.6 568.2) rotate(-90)" font-size="23.8" text-anchor="middle">2<tspan font-size="14.5" dy="-11">#</tspan><tspan dy="11">(C)</tspan></text>
<text class="t" x="742" y="51.5" font-size="18.5">Max = 9.18</text>
<text class="t" x="731" y="273" font-size="18.5">Max = 7.48</text>
<text class="t" x="742.4" y="482.5" font-size="18.5">Max = 6.55</text>
<linearGradient id="cb0" x1="0" y1="0" x2="0" y2="1"><stop offset="0.0000" stop-color="#1a2ee0"/><stop offset="0.1089" stop-color="#1a50c8"/><stop offset="0.1089" stop-color="#1a6aa0"/><stop offset="0.2179" stop-color="#18908a"/><stop offset="0.2179" stop-color="#10c050"/><stop offset="0.3268" stop-color="#10d840"/><stop offset="0.3268" stop-color="#18f018"/><stop offset="0.4357" stop-color="#30f010"/><stop offset="0.4357" stop-color="#70e818"/><stop offset="0.5447" stop-color="#90f010"/><stop offset="0.5447" stop-color="#c8f818"/><stop offset="0.6536" stop-color="#d8f000"/><stop offset="0.6536" stop-color="#fff000"/><stop offset="0.7625" stop-color="#ffc000"/><stop offset="0.7625" stop-color="#ff9a00"/><stop offset="0.8715" stop-color="#ff7000"/><stop offset="0.8715" stop-color="#ff5010"/><stop offset="0.9804" stop-color="#ff2020"/><stop offset="0.9804" stop-color="#c01818"/><stop offset="1.0000" stop-color="#a01010"/></linearGradient>
<rect x="753.5" y="63.5" width="27.7" height="163.22" fill="url(#cb0)" stroke="#333" stroke-width="0.8"/>
<line x1="753.5" y1="81.28" x2="781.20" y2="81.28" stroke="#000" stroke-opacity="0.6" stroke-width="1.2"/>
<text class="t" x="785.6" y="87.90" font-size="16.2">1</text>
<line x1="753.5" y1="99.06" x2="781.20" y2="99.06" stroke="#000" stroke-opacity="0.6" stroke-width="1.2"/>
<text class="t" x="785.6" y="105.30" font-size="16.2">2</text>
<line x1="753.5" y1="116.84" x2="781.20" y2="116.84" stroke="#000" stroke-opacity="0.6" stroke-width="1.2"/>
<text class="t" x="785.6" y="122.70" font-size="16.2">3</text>
<line x1="753.5" y1="134.62" x2="781.20" y2="134.62" stroke="#000" stroke-opacity="0.6" stroke-width="1.2"/>
<text class="t" x="785.6" y="140.10" font-size="16.2">4</text>
<line x1="753.5" y1="152.40" x2="781.20" y2="152.40" stroke="#000" stroke-opacity="0.6" stroke-width="1.2"/>
<text class="t" x="785.6" y="157.50" font-size="16.2">5</text>
<line x1="753.5" y1="170.18" x2="781.20" y2="170.18" stroke="#000" stroke-opacity="0.6" stroke-width="1.2"/>
<text class="t" x="785.6" y="174.90" font-size="16.2">6</text>
<line x1="753.5" y1="187.96" x2="781.20" y2="187.96" stroke="#000" stroke-opacity="0.6" stroke-width="1.2"/>
<text class="t" x="785.6" y="192.30" font-size="16.2">7</text>
<line x1="753.5" y1="205.74" x2="781.20" y2="205.74" stroke="#000" stroke-opacity="0.6" stroke-width="1.2"/>
<text class="t" x="785.6" y="209.70" font-size="16.2">8</text>
<line x1="753.5" y1="223.52" x2="781.20" y2="223.52" stroke="#000" stroke-opacity="0.6" stroke-width="1.2"/>
<text class="t" x="785.6" y="227.10" font-size="16.2">9</text>
<linearGradient id="cb1" x1="0" y1="0" x2="0" y2="1"><stop offset="0.0000" stop-color="#1a30e0"/><stop offset="0.1337" stop-color="#1a50b0"/><stop offset="0.1337" stop-color="#108080"/><stop offset="0.2674" stop-color="#10a060"/><stop offset="0.2674" stop-color="#10e830"/><stop offset="0.4011" stop-color="#20f020"/><stop offset="0.4011" stop-color="#60f010"/><stop offset="0.5348" stop-color="#90f010"/><stop offset="0.5348" stop-color="#d0f000"/><stop offset="0.6684" stop-color="#f8f000"/><stop offset="0.6684" stop-color="#ffd000"/><stop offset="0.8021" stop-color="#ff9000"/><stop offset="0.8021" stop-color="#ff6000"/><stop offset="0.9358" stop-color="#ff3010"/><stop offset="0.9358" stop-color="#ff1a10"/><stop offset="1.0000" stop-color="#f01010"/></linearGradient>
<rect x="750.5" y="287.6" width="30.2" height="135.01" fill="url(#cb1)" stroke="#333" stroke-width="0.8"/>
<line x1="750.5" y1="305.65" x2="780.70" y2="305.65" stroke="#000" stroke-opacity="0.6" stroke-width="1.2"/>
<text class="t" x="785.1" y="310.70" font-size="16.2">1</text>
<line x1="750.5" y1="323.70" x2="780.70" y2="323.70" stroke="#000" stroke-opacity="0.6" stroke-width="1.2"/>
<text class="t" x="785.1" y="329.08" font-size="16.2">2</text>
<line x1="750.5" y1="341.75" x2="780.70" y2="341.75" stroke="#000" stroke-opacity="0.6" stroke-width="1.2"/>
<text class="t" x="785.1" y="347.46" font-size="16.2">3</text>
<line x1="750.5" y1="359.80" x2="780.70" y2="359.80" stroke="#000" stroke-opacity="0.6" stroke-width="1.2"/>
<text class="t" x="785.1" y="365.84" font-size="16.2">4</text>
<line x1="750.5" y1="377.85" x2="780.70" y2="377.85" stroke="#000" stroke-opacity="0.6" stroke-width="1.2"/>
<text class="t" x="785.1" y="384.22" font-size="16.2">5</text>
<line x1="750.5" y1="395.90" x2="780.70" y2="395.90" stroke="#000" stroke-opacity="0.6" stroke-width="1.2"/>
<text class="t" x="785.1" y="402.60" font-size="16.2">6</text>
<line x1="750.5" y1="413.95" x2="780.70" y2="413.95" stroke="#000" stroke-opacity="0.6" stroke-width="1.2"/>
<text class="t" x="785.1" y="420.98" font-size="16.2">7</text>
<linearGradient id="cb2" x1="0" y1="0" x2="0" y2="1"><stop offset="0.0000" stop-color="#1030e0"/><stop offset="0.1527" stop-color="#1a60a0"/><stop offset="0.1527" stop-color="#109070"/><stop offset="0.3053" stop-color="#10c050"/><stop offset="0.3053" stop-color="#10f020"/><stop offset="0.4580" stop-color="#40f010"/><stop offset="0.4580" stop-color="#a0f010"/><stop offset="0.6107" stop-color="#c8f000"/><stop offset="0.6107" stop-color="#fff000"/><stop offset="0.7634" stop-color="#ffc000"/><stop offset="0.7634" stop-color="#ff9000"/><stop offset="0.9160" stop-color="#ff5000"/><stop offset="0.9160" stop-color="#ff2a20"/><stop offset="1.0000" stop-color="#ff1818"/></linearGradient>
<rect x="756.5" y="496.8" width="28.2" height="131.00" fill="url(#cb2)" stroke="#333" stroke-width="0.8"/>
<line x1="756.5" y1="516.80" x2="784.70" y2="516.80" stroke="#000" stroke-opacity="0.6" stroke-width="1.2"/>
<text class="t" x="788.8" y="525.10" font-size="16.2">1</text>
<line x1="756.5" y1="536.80" x2="784.70" y2="536.80" stroke="#000" stroke-opacity="0.6" stroke-width="1.2"/>
<text class="t" x="788.8" y="544.60" font-size="16.2">2</text>
<line x1="756.5" y1="556.80" x2="784.70" y2="556.80" stroke="#000" stroke-opacity="0.6" stroke-width="1.2"/>
<text class="t" x="788.8" y="564.10" font-size="16.2">3</text>
<line x1="756.5" y1="576.80" x2="784.70" y2="576.80" stroke="#000" stroke-opacity="0.6" stroke-width="1.2"/>
<text class="t" x="788.8" y="583.60" font-size="16.2">4</text>
<line x1="756.5" y1="596.80" x2="784.70" y2="596.80" stroke="#000" stroke-opacity="0.6" stroke-width="1.2"/>
<text class="t" x="788.8" y="603.10" font-size="16.2">5</text>
<line x1="756.5" y1="616.80" x2="784.70" y2="616.80" stroke="#000" stroke-opacity="0.6" stroke-width="1.2"/>
<text class="t" x="788.8" y="622.60" font-size="16.2">6</text>
<text class="t" x="122.9" y="733.5" font-size="22.7" font-weight="300" xml:space="preserve">图 8　TC4 棒材 2<tspan font-size="13" dy="-9">#</tspan><tspan dy="9">样品轴截面边部，</tspan><tspan font-style="italic">R</tspan>/2 处，心部样品的极图</text>
<text class="t" x="128.8" y="775.2" font-size="22.7" xml:space="preserve">Fig.8    Pole maps of sample 2<tspan font-size="13" dy="-9">#</tspan><tspan dy="9">(E), 2</tspan><tspan font-size="13" dy="-9">#</tspan><tspan dy="9">(M), and 2</tspan><tspan font-size="13" dy="-9">#</tspan><tspan dy="9">(C) for TC4 bar</tspan></text>
</svg>
</body></html>
